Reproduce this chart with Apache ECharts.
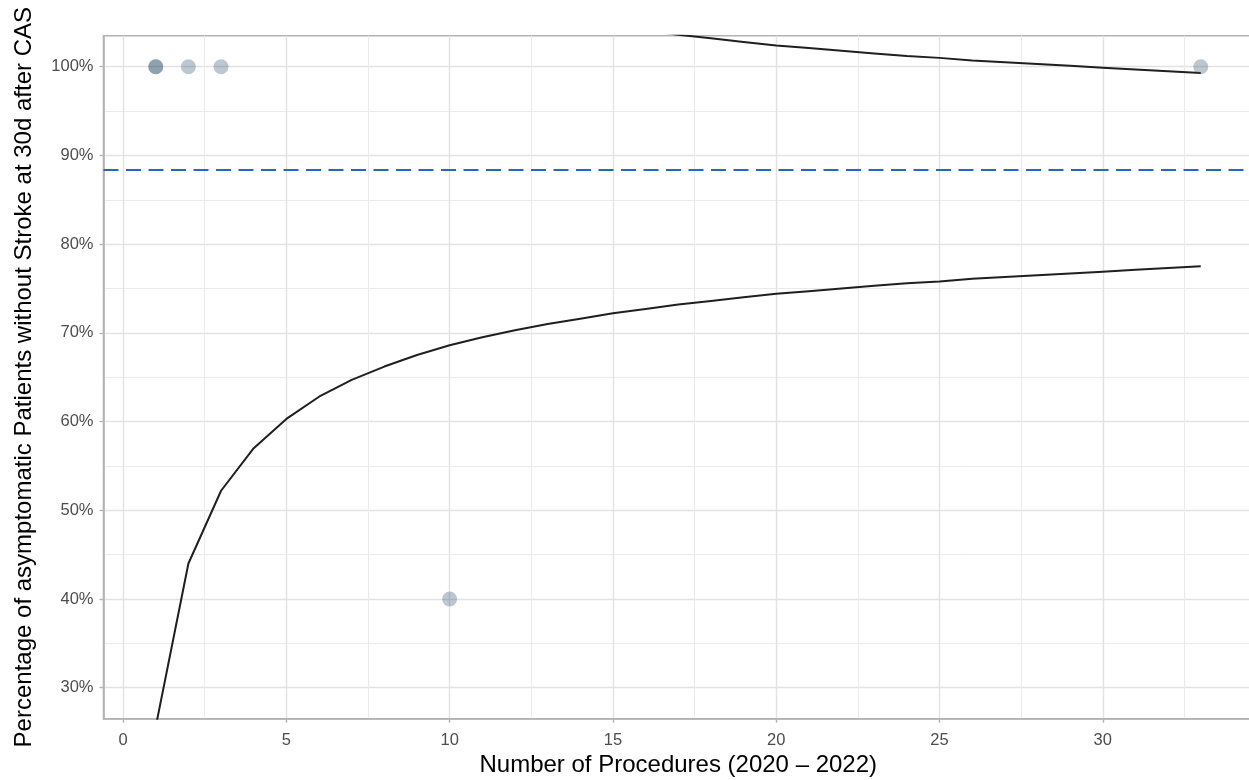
<!DOCTYPE html>
<html>
<head>
<meta charset="utf-8">
<script src="https://cdn.jsdelivr.net/npm/echarts@6/dist/echarts.min.js"></script>
<style>
html,body{margin:0;padding:0;background:#fff;overflow:hidden;}
#chart{width:1249px;height:780px;}
</style>
</head>
<body>
<div id="chart"></div>
<script>
// ---- data ----
const procedures = [1,2,3,4,5,6,7,8,9,10,11,12,13,14,15,16,17,18,19,20,21,22,23,24,25,26,27,28,29,30,31,32,33];
const lowerLimit = [25.6,44.0,52.2,57.0,60.3,62.8,64.7,66.2,67.5,68.6,69.5,70.3,71.0,71.6,72.2,72.7,73.2,73.6,74.0,74.4,74.7,75.0,75.3,75.6,75.8,76.1,76.3,76.5,76.7,76.9,77.1,77.3,77.5];
const upperLimit = [151.2,132.8,124.6,119.8,116.5,114.0,112.1,110.6,109.3,108.2,107.3,106.5,105.8,105.2,104.6,104.1,103.6,103.2,102.8,102.4,102.1,101.8,101.5,101.2,101.0,100.7,100.5,100.3,100.1,99.9,99.7,99.5,99.3];
const benchmark = 88.4;
const pointN = [1,1,2,3,10,33];
const pointPct = [100,100,100,100,40,100];
const xTicks = [0,5,10,15,20,25,30];
const xMinorTicks = [2.5,7.5,12.5,17.5,22.5,27.5,32.5];
const yTicks = [30,40,50,60,70,80,90,100];
const yMinorTicks = [35,45,55,65,75,85,95];

const font = 'Liberation Sans, Arial, Helvetica, sans-serif';
const chart = echarts.init(document.getElementById('chart'), null, {renderer:'canvas'});

const zip = (a,b) => a.map((v,i)=>[v,b[i]]);

chart.setOption({
  animation:false,
  backgroundColor:'#ffffff',
  grid:{left:103.5,top:35.7,width:1149.5,height:683,outerBoundsMode:'none',containLabel:false,
        show:true,borderColor:'#b3b3b3',borderWidth:1.6,backgroundColor:'transparent'},
  xAxis:[{
    type:'value',min:-0.6,max:34.6,
    name:'Number of Procedures (2020 \u2013 2022)',nameLocation:'middle',nameGap:34,
    nameTextStyle:{color:'#000',fontSize:24,fontFamily:font},
    axisLine:{show:true,onZero:false,lineStyle:{color:'#b3b3b3',width:1.6}},
    axisTick:{show:true,length:4,customValues:xTicks,lineStyle:{color:'#b3b3b3',width:1.4}},
    axisLabel:{customValues:xTicks,color:'#4d4d4d',fontSize:16.5,fontFamily:font,margin:13},
    splitLine:{show:true,lineStyle:{color:'#e2e2e2',width:1.4}}
  },{
    type:'value',min:-0.6,max:34.6,show:true,position:'bottom',
    axisLine:{show:false},axisLabel:{show:false},
    axisTick:{show:false,customValues:xMinorTicks},
    splitLine:{show:true,lineStyle:{color:'#ebebeb',width:1}}
  }],
  yAxis:[{
    type:'value',min:26.5,max:103.5,
    name:'Percentage of asymptomatic Patients without Stroke at 30d after CAS',nameLocation:'middle',nameGap:67,
    nameTextStyle:{color:'#000',fontSize:24,fontFamily:font},
    axisLine:{show:true,onZero:false,lineStyle:{color:'#b3b3b3',width:1.6}},
    axisTick:{show:true,length:4,customValues:yTicks,lineStyle:{color:'#b3b3b3',width:1.4}},
    axisLabel:{customValues:yTicks,formatter:v=>v+'%',color:'#4d4d4d',fontSize:16.5,fontFamily:font,margin:10},
    splitLine:{show:true,lineStyle:{color:'#e2e2e2',width:1.4}}
  },{
    type:'value',min:26.5,max:103.5,show:true,position:'left',
    axisLine:{show:false,onZero:false},axisLabel:{show:false},
    axisTick:{show:false,customValues:yMinorTicks},
    splitLine:{show:true,lineStyle:{color:'#ebebeb',width:1}}
  }],
  series:[
    {type:'line',name:'lower',data:zip(procedures,lowerLimit),showSymbol:false,symbol:'none',clip:true,
     lineStyle:{color:'#1f1f1f',width:2},z:3,
     markLine:{silent:true,symbol:['none','none'],label:{show:false},
       lineStyle:{color:'#1e6ac6',width:2,type:[15,7.5]},data:[{yAxis:benchmark}]}},
    {type:'line',name:'upper',data:zip(procedures,upperLimit),showSymbol:false,symbol:'none',clip:true,
     lineStyle:{color:'#1f1f1f',width:2},z:3},
    {type:'scatter',name:'hospitals',data:zip(pointN,pointPct),symbolSize:15,
     itemStyle:{color:'rgba(48,82,107,0.4)'},z:4}
  ]
});
</script>
</body>
</html>
